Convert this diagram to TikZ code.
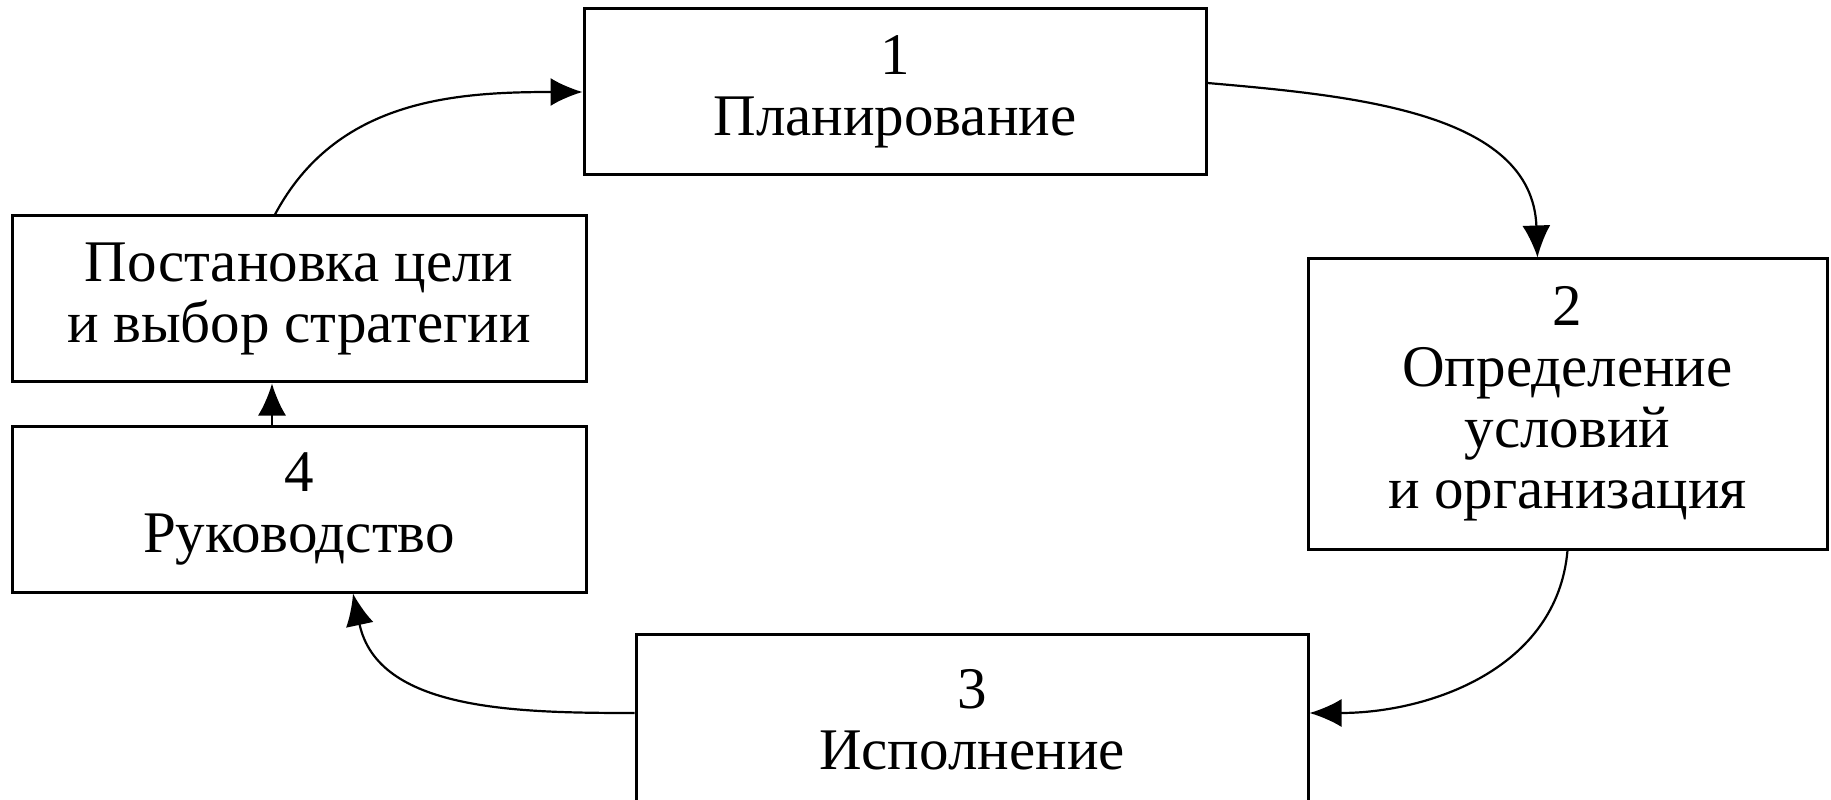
\documentclass[tikz,border=0pt]{standalone}
\usepackage{fontspec}
\setmainfont{Liberation Serif}
\usetikzlibrary{arrows.meta}
\begin{document}
\begin{tikzpicture}[x=0.5pt,y=0.5pt,
  box/.style={draw, line width=1.5pt, align=center, inner sep=0pt, font=\fontsize{29.5}{30.5}\selectfont},
  arr/.style={line width=1.1pt, -{Latex[length=16pt,width=14pt]}}]
\useasboundingbox (0,0) rectangle (1831,799);
\node[box, minimum width=311pt, minimum height=83pt] (n1) at (895,707) {1\\Планирование};
\node[box, minimum width=287pt, minimum height=83pt] (P) at (299,500) {Постановка цели\\и выбор стратегии};
\node[box, minimum width=287pt, minimum height=83pt] (n4) at (299,290) {4\\Руководство};
\node[box, minimum width=259.5pt, minimum height=145pt] (n2) at (1567.5,395) {2\\Определение\\условий\\и организация};
\node[box, minimum width=336pt, minimum height=86pt] (n3) at (972,79) {3\\Исполнение};
\draw[arr] ([xshift=-12pt]P.north) to[out=62,in=180] (n1.west);
\draw[arr] ([yshift=4.5pt]n1.east) to[out=-5,in=92] ([xshift=-15pt]n2.north);
\draw[arr] (n2.south) to[out=-95,in=0] ([yshift=3.5pt]n3.east);
\draw[arr] ([yshift=3.5pt]n3.west) to[out=180,in=-78] ([xshift=27pt]n4.south);
\draw[arr] ([xshift=-13.5pt]n4.north) -- ([xshift=-13.5pt]P.south);
\end{tikzpicture}
\end{document}
